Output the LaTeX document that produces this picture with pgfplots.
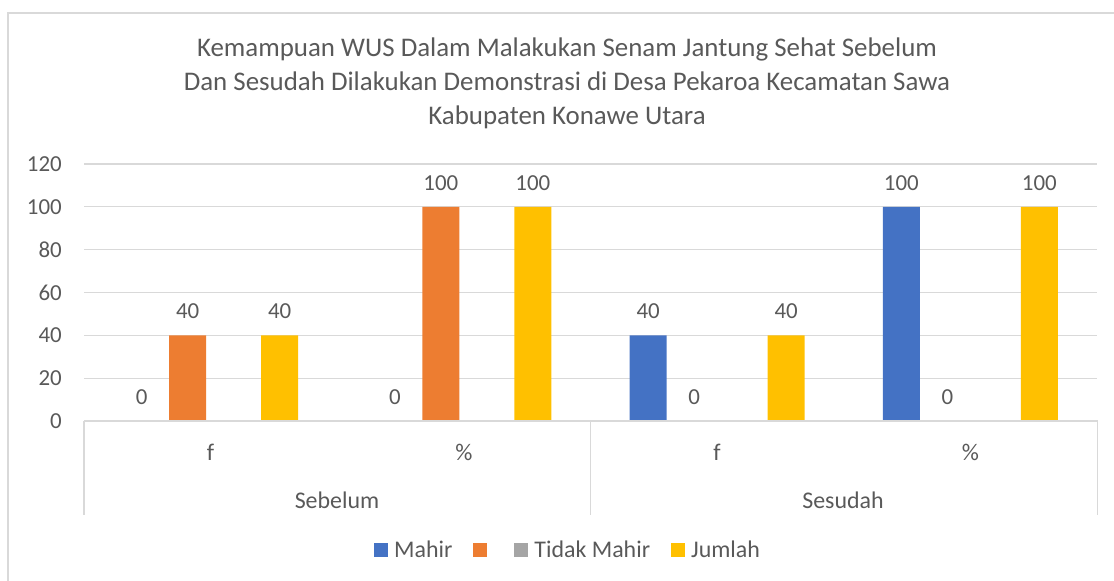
\documentclass[border=0pt]{standalone}
\usepackage{pgfplots}
\pgfplotsset{compat=1.18}
\usepackage{fontspec}
\setmainfont{Carlito}
\definecolor{cblue}{HTML}{4472C4}
\definecolor{corange}{HTML}{ED7D31}
\definecolor{cgray}{HTML}{A5A5A5}
\definecolor{cyellow}{HTML}{FFC000}
\definecolor{txt}{HTML}{595959}
\definecolor{gridc}{HTML}{D9D9D9}
\begin{document}
\begin{tikzpicture}[x=1bp,y=1bp]
\path[use as bounding box] (0,0) rectangle (1114,581);
\draw[gridc, line width=2bp] (8,0) -- (8,568) -- (1114,568);
\node[txt, font=\fontsize{27}{34}\selectfont, align=center] at (567,498) {Kemampuan WUS Dalam Malakukan Senam Jantung Sehat Sebelum\\Dan Sesudah Dilakukan Demonstrasi di Desa Pekaroa Kecamatan Sawa\\Kabupaten Konawe Utara};
\begin{axis}[
  at={(84bp,160bp)}, anchor=south west, scale only axis,
  width=1013bp, height=257bp,
  xmin=-0.5, xmax=3.5, ymin=0, ymax=120,
  ytick={0,20,...,120},
  xtick={0,1,2,3}, xticklabels={f,\%,f,\%},
  major tick length=0,
  axis line style={draw=none},
  ymajorgrids, major grid style={gridc, line width=1.3bp},
  /pgf/number format/assume math mode=true,
  tick label style={txt, font=\fontsize{23}{27}\selectfont},
  xticklabel style={anchor=center, yshift=-31bp, font=\fontsize{24}{28}\selectfont},
  yticklabel style={anchor=east, inner sep=0pt, xshift=-22bp},
  ybar=9bp, bar width=37bp,
  nodes near coords,
  every node near coord/.append style={txt, font=\fontsize{23}{27}\selectfont, anchor=center, yshift=24bp},
  legend style={at={(0.4798,-0.502)}, anchor=center, draw=none, fill=none,
    legend columns=4, font=\fontsize{24}{28}\selectfont, text=txt,
    /tikz/every even column/.append style={column sep=15bp},
    nodes={inner xsep=6bp, inner ysep=3bp}},
  legend image code/.code={\fill[#1, fill opacity=1] (0bp,-7bp) rectangle (14bp,7bp);},
]
\addplot[fill=cblue, draw=none] coordinates {(0,0) (1,0) (2,40) (3,100)};
\addlegendentry{Mahir}
\addplot[fill=corange, draw=none] coordinates {(0,40) (1,100) (2,0) (3,0)};
\addlegendentry{\hspace{-3bp}}
\addplot[fill=cgray, fill opacity=0, draw=none, nodes near coords={}] coordinates {(0,0) (1,0) (2,0) (3,0)};
\addlegendentry{Tidak Mahir}
\addplot[fill=cyellow, draw=none] coordinates {(0,40) (1,100) (2,40) (3,100)};
\addlegendentry{Jumlah}
\end{axis}
\draw[gridc, line width=1.5bp] (84,160) -- (1097.5,160);
\draw[gridc, line width=1.5bp] (84,160) -- (84,66);
\draw[gridc, line width=1.5bp] (590.5,160) -- (590.5,66);
\draw[gridc, line width=1.5bp] (1097.5,160) -- (1097.5,66);
\node[txt, font=\fontsize{24}{28}\selectfont] at (337,81) {Sebelum};
\node[txt, font=\fontsize{24}{28}\selectfont] at (843,81) {Sesudah};
\end{tikzpicture}
\end{document}
